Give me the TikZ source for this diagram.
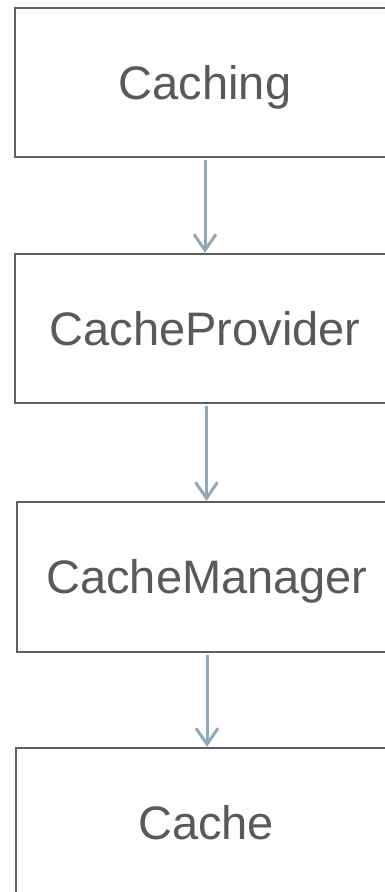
\documentclass[tikz,border=0pt]{standalone}
\usepackage{fontspec}
\setmainfont{Liberation Sans}
\usetikzlibrary{arrows.meta}
\definecolor{boxline}{HTML}{5F5F5F}
\definecolor{boxtext}{HTML}{595959}
\definecolor{flow}{HTML}{8FA9B8}
\begin{document}
\begin{tikzpicture}[x=1pt,y=1pt,
  stage/.style={draw=boxline, line width=2.2pt, fill=white, text=boxtext,
    minimum width=380pt, inner sep=0pt,
    font=\fontsize{47}{56}\selectfont, text height=33.7pt, text depth=0pt},
  flowarrow/.style={draw=flow, line width=3pt,
    -{Straight Barb[length=16pt, width=22pt, line width=3pt]}, shorten <=2pt}]
  \useasboundingbox (0,0) rectangle (385,-892);
  \begin{scope}
    \clip (0,0) rectangle (385,-892);
    \node[stage, minimum height=149pt] (caching)  at (205,-82.5) {Caching};
    \node[stage, minimum height=149pt] (provider) at (205,-328.5) {CacheProvider};
    \node[stage, minimum height=150pt] (manager)  at (207,-577) {CacheManager};
    \node[stage, minimum height=150pt] (cache)    at (206,-823) {Cache};
  \end{scope}
  \draw[flowarrow] (caching.south)  -- (provider.north);
  \draw[flowarrow] ([xshift=1.5pt]provider.south) -- ([xshift=1.5pt]provider.south |- manager.north);
  \draw[flowarrow] (manager.south)  -- (manager.south |- cache.north);
\end{tikzpicture}
\end{document}
